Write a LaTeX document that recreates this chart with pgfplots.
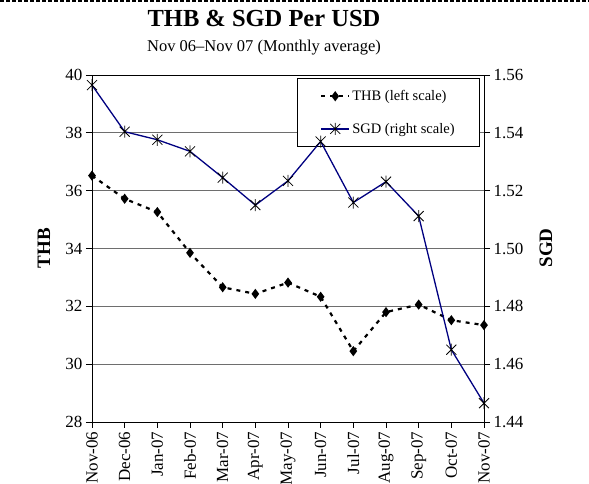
\documentclass[border=0pt]{standalone}
\usepackage{fontspec}
\setmainfont{Liberation Serif}
\usepackage{pgfplots}
\pgfplotsset{compat=1.18}

\definecolor{sgdblue}{RGB}{0,0,128}
\definecolor{gridgray}{RGB}{110,110,110}

% Excel-style star: an X with a vertical bar
\pgfdeclareplotmark{xstar}{%
  \pgfpathmoveto{\pgfqpoint{0pt}{1.2\pgfplotmarksize}}%
  \pgfpathlineto{\pgfqpoint{0pt}{-1.2\pgfplotmarksize}}%
  \pgfpathmoveto{\pgfqpoint{-\pgfplotmarksize}{\pgfplotmarksize}}%
  \pgfpathlineto{\pgfqpoint{\pgfplotmarksize}{-\pgfplotmarksize}}%
  \pgfpathmoveto{\pgfqpoint{-\pgfplotmarksize}{-\pgfplotmarksize}}%
  \pgfpathlineto{\pgfqpoint{\pgfplotmarksize}{\pgfplotmarksize}}%
  \pgfusepathqstroke}

\pgfplotstableread{
x  thb    sgd
0  36.52  1.5565
1  35.72  1.5404
2  35.26  1.5376
3  33.85  1.5336
4  32.66  1.5245
5  32.43  1.5150
6  32.82  1.5234
7  32.33  1.5370
8  30.45  1.5159
9  31.80  1.5231
10 32.06  1.5112
11 31.52  1.4650
12 31.35  1.4465
}\rates

\begin{document}
\begin{tikzpicture}[x=1pt,y=1pt]
\path[use as bounding box] (0,0) rectangle (589,484);
\draw[line width=2.5pt, dash pattern=on 4pt off 2pt] (0,483) -- (589,483);

\node[anchor=base, font=\fontsize{24.5}{28}\selectfont\bfseries] at (264,457) {THB \& SGD Per USD};
\node[anchor=base, font=\fontsize{16.5}{19}\selectfont] at (264,432) {Nov 06--Nov 07 (Monthly average)};
\node[rotate=90, font=\fontsize{19}{22}\selectfont\bfseries] at (44,236) {THB};
\node[rotate=90, font=\fontsize{19}{22}\selectfont\bfseries] at (546,236) {SGD};

\begin{axis}[
  at={(92pt,62pt)}, anchor=south west,
  scale only axis, width=392pt, height=347pt,
  xmin=0, xmax=12, ymin=28, ymax=40,
  xtick={0,...,12},
  xticklabels={Nov-06,Dec-06,Jan-07,Feb-07,Mar-07,Apr-07,May-07,Jun-07,Jul-07,Aug-07,Sep-07,Oct-07,Nov-07},
  x tick label style={rotate=90, anchor=east, font=\fontsize{17}{19}\selectfont},
  ytick={28,30,...,40},
  y tick label style={font=\fontsize{17}{19}\selectfont},
  /pgf/number format/assume math mode=true,
  xtick pos=bottom, ytick pos=left,
  tick align=outside, major tick length=6pt,
  tick style={black, line width=0.8pt},
  axis line style={line width=0.8pt},
  ymajorgrids, grid style={gridgray, line width=0.8pt},
  legend style={at={(0.9898,0.9914)}, anchor=north east, draw=black, line width=0.8pt,
    font=\fontsize{14.5}{16}\selectfont, inner xsep=23pt, inner ysep=10pt,
    row sep=17pt, cells={anchor=west}},
  legend image code/.code={\draw[mark repeat=2,mark phase=2] plot coordinates {(0pt,0pt) (14pt,0pt) (28pt,0pt)};},
]
\addplot[black, line width=2.2pt, dash pattern=on 4pt off 5pt, mark=diamond*, mark size=3.3pt,
  mark options={solid, fill=black}] table[x=x, y=thb] {\rates};
\addlegendentry{THB (left scale)}
\addlegendimage{sgdblue, line width=1.3pt, mark=xstar, mark size=5pt, mark options={black, line width=0.8pt}}
\addlegendentry{SGD (right scale)}
\end{axis}

\begin{axis}[
  at={(92pt,62pt)}, anchor=south west,
  scale only axis, width=392pt, height=347pt,
  xmin=0, xmax=12, ymin=1.44, ymax=1.56,
  axis x line=none, axis y line*=right,
  ytick={1.44,1.46,...,1.561},
  yticklabel style={/pgf/number format/fixed, /pgf/number format/fixed zerofill,
    /pgf/number format/precision=2, font=\fontsize{17}{19}\selectfont},
  /pgf/number format/assume math mode=true,
  tick align=outside, major tick length=6pt,
  tick style={black, line width=0.8pt},
  axis line style={line width=0.8pt},
]
\addplot[sgdblue, line width=1.3pt, mark=xstar, mark size=5pt,
  mark options={black, line width=0.8pt}] table[x=x, y=sgd] {\rates};
\end{axis}
\end{tikzpicture}
\end{document}
